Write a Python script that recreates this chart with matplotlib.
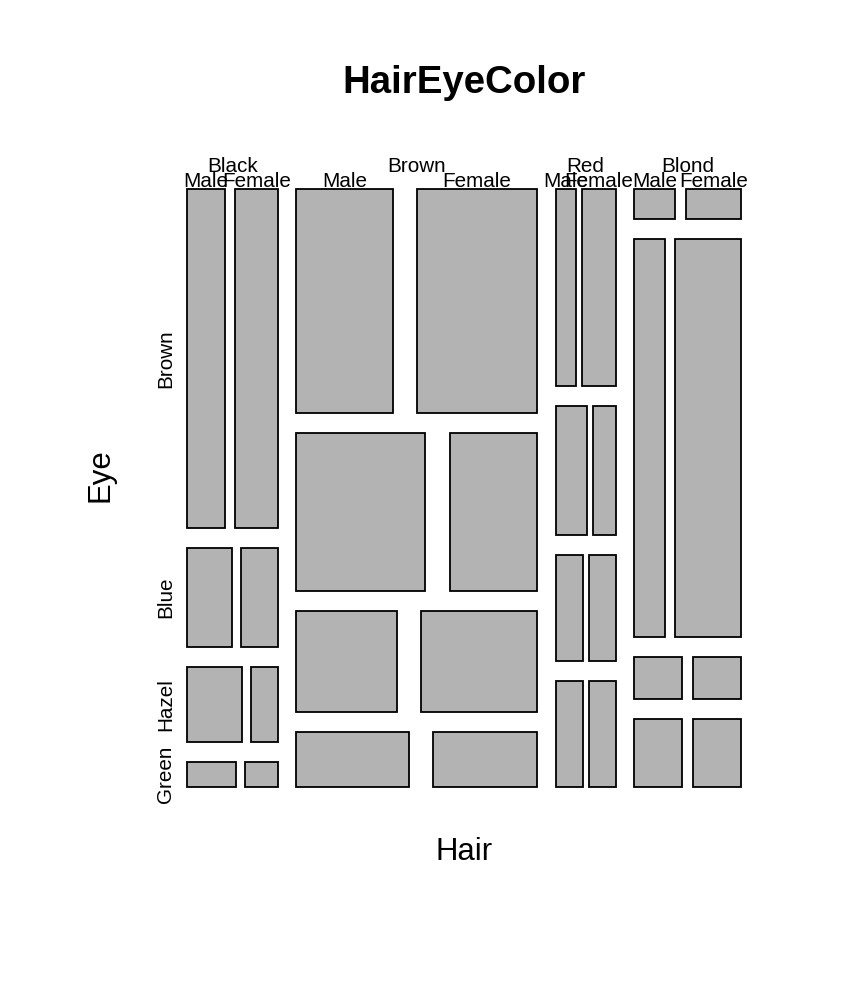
import numpy as np
import matplotlib
matplotlib.use("Agg")
import matplotlib.pyplot as plt
from matplotlib.patches import Rectangle

# HairEyeColor table: hair x eye, one array per sex
hair = ["Black", "Brown", "Red", "Blond"]
eye = ["Brown", "Blue", "Hazel", "Green"]
sex = ["Male", "Female"]
male = np.array([[32, 11, 10, 3],
                 [53, 50, 25, 15],
                 [10, 10, 7, 7],
                 [3, 30, 5, 8]])
female = np.array([[36, 9, 5, 2],
                   [66, 34, 29, 14],
                   [16, 7, 7, 7],
                   [4, 64, 5, 8]])
counts = np.stack([male, female], axis=-1)  # hair x eye x sex

OFF = 0.10  # R mosaicplot default spacing (10%) at every level
X1, X2, Y1, Y2 = 50, 950, 5, 950  # mosaic region in usr units (1..1000)


def split(lo, hi, props):
    # works in either direction: hi < lo splits downwards
    white = OFF * (hi - lo) / max(1, len(props) - 1)
    edges, start = [], lo
    for p in props:
        end = start + (1 - OFF) * p * (hi - lo)
        edges.append((start, end))
        start = end + white
    return edges


plt.rcParams["font.family"] = ["Liberation Sans", "DejaVu Sans"]
fig = plt.figure(figsize=(8.52, 9.86), dpi=100)
W, H = 852, 986
ax = fig.add_axes([156.8 / W, 1 - 789.5 / H, 615.0 / W, 632.1 / H])
ax.set_xlim(1, 1000)
ax.set_ylim(1, 1000)
ax.axis("off")

tick_fs = 14.9
hair_x = split(X1, X2, counts.sum(axis=(1, 2)) / counts.sum())
for i, (xl, xr) in enumerate(hair_x):
    ax.text((xl + xr) / 2, 985.0, hair[i], ha="center", va="center", fontsize=tick_fs)
    sub = counts[i]
    eye_y = split(Y2, Y1, sub.sum(axis=1) / sub.sum())
    for j, (yt, yb) in enumerate(eye_y):
        sex_x = split(xl, xr, sub[j] / sub[j].sum())
        for k, (sl, sr) in enumerate(sex_x):
            ax.add_patch(Rectangle((sl, yb), sr - sl, yt - yb, facecolor="#b3b3b3",
                                   edgecolor="black", linewidth=1.3))
            if j == 0:
                ax.text((sl + sr) / 2, 961.2, sex[k], ha="center", va="center",
                        fontsize=tick_fs)
        if i == 0:
            ax.text(15.9, (yt + yb) / 2, eye[j], ha="center", va="center",
                    rotation=90, fontsize=tick_fs)

fig.text(464 / W, 1 - 83 / H, "HairEyeColor", ha="center", va="center",
         fontsize=27.6, fontweight="bold")
fig.text(464 / W, 1 - 852 / H, "Hair", ha="center", va="center", fontsize=22.4)
fig.text(100 / W, 1 - 475 / H, "Eye", ha="center", va="center", fontsize=22.4,
         rotation=90)

fig.savefig("out.png", dpi=100)
